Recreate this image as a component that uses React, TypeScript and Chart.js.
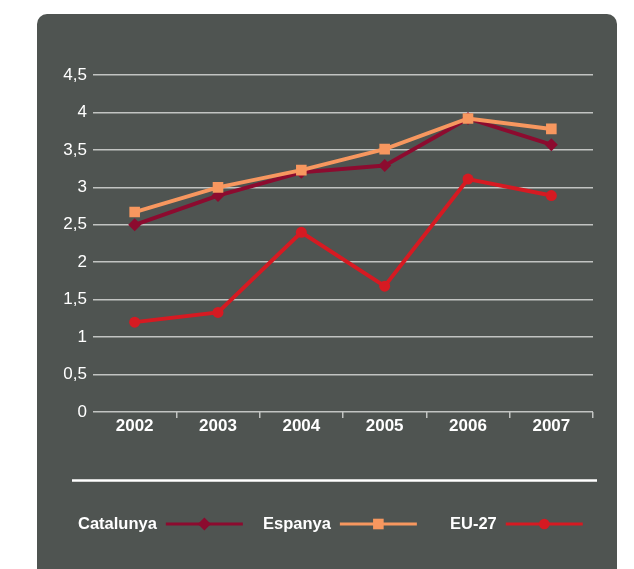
import React, { useEffect, useRef } from "react";
import { Chart, registerables } from "chart.js";

Chart.register(...registerables);

const years = ["2002", "2003", "2004", "2005", "2006", "2007"];
const catalunya = [2.5, 2.89, 3.2, 3.29, 3.92, 3.57];
const espanya = [2.67, 3.0, 3.23, 3.51, 3.92, 3.78];
const eu27 = [1.2, 1.33, 2.4, 1.68, 3.11, 2.89];
const seriesNames = ["Catalunya", "Espanya", "EU-27"];
const seriesColors = ["#8c0b2f", "#f7975f", "#d61a22"];

const FONT = "'Liberation Sans', Arial, sans-serif";
const GRID = "#c2c4c2";
const PANEL = "#4f5451";

const legendPlugin = {
  id: "customLegend",
  afterDraw(chart: any) {
    const ctx = chart.ctx;
    ctx.save();
    ctx.strokeStyle = "#ffffff";
    ctx.lineWidth = 2.5;
    ctx.beginPath();
    ctx.moveTo(72, 480.5);
    ctx.lineTo(597, 480.5);
    ctx.stroke();
    const y = 524;
    const starts = [78, 263, 450];
    ctx.font = `bold 16.5px ${FONT}`;
    ctx.textBaseline = "middle";
    ctx.textAlign = "left";
    chart.data.datasets.forEach((ds: any, i: number) => {
      const x0 = starts[i];
      ctx.fillStyle = "#ffffff";
      ctx.fillText(ds.label, x0, y);
      const w = ctx.measureText(ds.label).width;
      const lx0 = x0 + w + 9;
      const lx1 = lx0 + 77;
      ctx.strokeStyle = ds.borderColor;
      ctx.lineWidth = 3;
      ctx.beginPath();
      ctx.moveTo(lx0, y);
      ctx.lineTo(lx1, y);
      ctx.stroke();
      ctx.fillStyle = ds.borderColor;
      const cx = (lx0 + lx1) / 2;
      ctx.beginPath();
      if (ds.pointStyle === "rectRot") {
        const r = 6.5;
        ctx.moveTo(cx - r, y);
        ctx.lineTo(cx, y - r);
        ctx.lineTo(cx + r, y);
        ctx.lineTo(cx, y + r);
        ctx.closePath();
      } else if (ds.pointStyle === "rect") {
        const s = 5.3;
        ctx.rect(cx - s, y - s, 2 * s, 2 * s);
      } else {
        ctx.arc(cx, y, 5.3, 0, Math.PI * 2);
      }
      ctx.fill();
    });
    ctx.restore();
  },
};

export default function App() {
  const ref = useRef<HTMLCanvasElement | null>(null);
  useEffect(() => {
    if (!ref.current) return;
    const styles = ["rectRot", "rect", "circle"];
    const radii = [6.5, 7.5, 5.5];
    const orders = [1, 0, 2];
    const values = [catalunya, espanya, eu27];
    const chart = new Chart(ref.current, {
      type: "line",
      data: {
        labels: years,
        datasets: values.map((v, i) => ({
          label: seriesNames[i],
          data: v,
          order: orders[i],
          borderColor: seriesColors[i],
          backgroundColor: seriesColors[i],
          pointBackgroundColor: seriesColors[i],
          pointBorderWidth: 0,
          pointStyle: styles[i] as any,
          pointRadius: radii[i],
          borderWidth: 4,
          tension: 0,
        })),
      },
      options: {
        responsive: false,
        animation: false,
        layout: { padding: { top: 75, right: 41, left: 0, bottom: 0 } },
        plugins: { legend: { display: false }, tooltip: { enabled: false } },
        scales: {
          x: {
            offset: true,
            afterFit: (s: any) => {
              s.height = 157;
            },
            grid: {
              offset: true,
              drawOnChartArea: false,
              drawTicks: true,
              tickLength: 6,
              lineWidth: 1.5,
              color: (c: any) => (c.index === 0 ? "rgba(0,0,0,0)" : GRID),
            },
            border: { display: false },
            ticks: {
              color: "#ffffff",
              font: { family: FONT, size: 17, weight: "bold" },
              padding: -2,
              maxRotation: 0,
            },
          },
          y: {
            min: 0,
            max: 4.5,
            afterFit: (s: any) => {
              s.width = 93;
            },
            grid: { color: GRID, lineWidth: 1.5, drawTicks: false },
            border: { display: false },
            ticks: {
              stepSize: 0.5,
              color: "#ffffff",
              padding: 6,
              font: { family: FONT, size: 17 },
              callback: (v: any) => String(v).replace(".", ","),
            },
          },
        },
      },
      plugins: [legendPlugin],
    });
    return () => chart.destroy();
  }, []);
  return (
    <div style={{ position: "fixed", left: 0, top: 0, width: 634, height: 569, overflow: "hidden", background: "#ffffff" }}>
      <div
        style={{
          position: "absolute",
          left: 37,
          top: 14,
          width: 580,
          height: 600,
          borderRadius: 10,
          background: PANEL,
        }}
      />
      <canvas ref={ref} width={634} height={569} style={{ position: "absolute", left: 0, top: 0 }} />
    </div>
  );
}
